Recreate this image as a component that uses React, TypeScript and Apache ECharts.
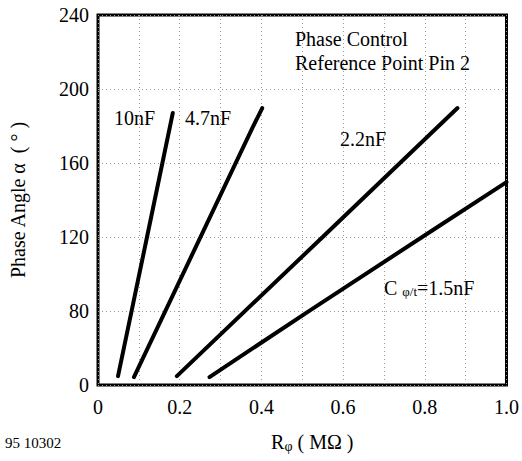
import React, { useEffect, useRef } from "react";
import * as echarts from "echarts";

// (y in axis units: bottom gridline is labelled "0" but sits at 40)
const xTicks = [0, 0.2, 0.4, 0.6, 0.8, 1.0];
const yTicks = [40, 80, 120, 160, 200, 240];
const yTickLabels = ["0", "80", "120", "160", "200", "240"];

const c10nF: [number, number][] = [[0.049, 44.8], [0.12, 120], [0.183, 187]];
const c47nF: [number, number][] = [[0.088, 44.3], [0.378, 179], [0.402, 189.7]];
const c22nF: [number, number][] = [[0.193, 44.8], [0.55, 120], [0.88, 189.7]];
const c15nF: [number, number][] = [[0.273, 44.3], [0.52, 80.5], [0.82, 123.8], [1.0, 149.7]];

const seriesNames = ["10nF", "4.7nF", "2.2nF", "1.5nF"];
const seriesData = [c10nF, c47nF, c22nF, c15nF];

const FONT = "Liberation Serif";

export default function App() {
  const ref = useRef<HTMLDivElement>(null);
  useEffect(() => {
    if (!ref.current) return;
    const chart = echarts.init(ref.current, null, { renderer: "svg" });
    const dotted = { show: true, lineStyle: { color: "#9a9a9a", type: [1, 3] as any, width: 1 } };
    chart.setOption({
      animation: false,
      backgroundColor: "#fff",
      grid: { left: 97, right: 15, top: 15, bottom: 76, show: true, borderColor: "#000", borderWidth: 3, backgroundColor: "transparent" },
      xAxis: {
        type: "value",
        min: 0,
        max: 1,
        interval: 0.2,
        axisLine: { show: false },
        axisTick: { show: false },
        axisLabel: {
          margin: 12,
          fontFamily: FONT,
          fontSize: 20,
          color: "#000",
          formatter: (v: number) => {
            const i = xTicks.findIndex((t) => Math.abs(t - v) < 1e-6);
            if (i < 0) return "";
            return v === 0 ? "0" : v.toFixed(1);
          },
        },
        splitLine: dotted,
        minorTick: { show: false, splitNumber: 2 },
        minorSplitLine: dotted,
        name: "{r|R}{s|φ}{r| ( MΩ )}",
        nameLocation: "middle",
        nameGap: 46,
        nameTextStyle: {
          padding: [0, 0, 0, 20],
          rich: {
            r: { fontFamily: FONT, fontSize: 20, color: "#000" },
            s: { fontFamily: FONT, fontSize: 14, color: "#000", padding: [8, 0, 0, 0] },
          },
        },
      },
      yAxis: {
        type: "value",
        min: 40,
        max: 240,
        interval: 40,
        axisLine: { show: false },
        axisTick: { show: false },
        axisLabel: {
          margin: 9,
          fontFamily: FONT,
          fontSize: 20,
          color: "#000",
          formatter: (v: number) => {
            const i = yTicks.indexOf(v);
            return i >= 0 ? yTickLabels[i] : "";
          },
        },
        splitLine: dotted,
        name: "Phase Angle α  ( ° )",
        nameLocation: "middle",
        nameGap: 70,
        nameRotate: 90,
        nameTextStyle: { fontFamily: FONT, fontSize: 20, color: "#000" },
      },
      series: seriesData.map((d, i) => ({
        name: seriesNames[i],
        type: "line",
        data: d,
        showSymbol: false,
        symbol: "none",
        smooth: false,
        lineStyle: { color: "#000", width: 4, cap: "round" },
      })),
      graphic: [
        { type: "text", left: 5, top: 435, style: { text: "95 10302", font: `15px ${FONT}`, fill: "#000" } },
        { type: "text", left: 295, top: 29, style: { text: "Phase Control", font: `20px ${FONT}`, fill: "#000" } },
        { type: "text", left: 295, top: 53, style: { text: "Reference Point Pin 2", font: `20px ${FONT}`, fill: "#000" } },
        { type: "text", left: 114, top: 108, style: { text: "10nF", font: `20px ${FONT}`, fill: "#000" } },
        { type: "text", left: 185, top: 108, style: { text: "4.7nF", font: `20px ${FONT}`, fill: "#000" } },
        { type: "text", left: 340, top: 129, style: { text: "2.2nF", font: `20px ${FONT}`, fill: "#000" } },
        {
          type: "text",
          left: 384,
          top: 278,
          style: {
            text: "{c|C }{s|φ/t}{c|=1.5nF}",
            rich: {
              c: { fontFamily: FONT, fontSize: 20, fill: "#000" } as any,
              s: { fontFamily: FONT, fontSize: 13, fill: "#000", padding: [6, 0, 0, 0] } as any,
            },
          },
        },
      ],
    });
    return () => chart.dispose();
  }, []);
  return <div ref={ref} style={{ position: "fixed", left: 0, top: 0, width: 522, height: 461 }} />;
}
